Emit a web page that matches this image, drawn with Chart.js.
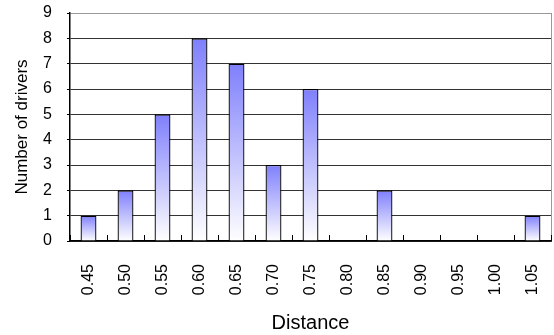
<!DOCTYPE html>
<html>
<head>
<meta charset="utf-8">
<script src="https://cdn.jsdelivr.net/npm/chart.js@4/dist/chart.umd.min.js"></script>
<style>
  html, body { margin: 0; padding: 0; background: #fff; }
  #wrap { width: 554px; height: 335px; }
</style>
</head>
<body>
<div id="wrap"><canvas id="c" width="554" height="335"></canvas></div>
<script>
const categories = ["0.45","0.50","0.55","0.60","0.65","0.70","0.75","0.80","0.85","0.90","0.95","1.00","1.05"];
const drivers = [1, 2, 5, 8, 7, 3, 6, 0, 2, 0, 0, 0, 1];
const yTicks = [0,1,2,3,4,5,6,7,8,9];

const FONT = "'Liberation Sans', Arial, sans-serif";

function barGradient(c) {
  const chart = c.chart;
  const y = chart.scales && chart.scales.y;
  if (!y || c.raw == null || !c.raw) return '#8080ff';
  const top = y.getPixelForValue(c.raw);
  const base = y.getPixelForValue(0);
  if (!isFinite(top) || !isFinite(base) || top === base) return '#8080ff';
  const g = chart.ctx.createLinearGradient(0, top, 0, base);
  g.addColorStop(0, '#7f7ffc');
  g.addColorStop(1, '#ffffff');
  return g;
}

const spacedTitle = {
  id: 'spacedTitle',
  afterInit(chart) {
    const s = chart.scales.y;
    if (!s || s._spaced) return;
    const orig = s.drawTitle;
    s.drawTitle = function () {
      const ctx = this.ctx;
      ctx.save();
      try { ctx.letterSpacing = '2px'; } catch (e) {}
      orig.call(this);
      ctx.restore();
    };
    s._spaced = true;
  }
};

new Chart(document.getElementById('c'), {
  type: 'bar',
  data: {
    labels: categories,
    datasets: [{
      label: 'Number of drivers',
      data: drivers,
      backgroundColor: barGradient,
      borderColor: '#000',
      borderWidth: 1.3,
      borderSkipped: 'start',
      barPercentage: 0.43,
      categoryPercentage: 1.0
    }]
  },
  plugins: [spacedTitle],
  options: {
    responsive: false,
    animation: false,
    devicePixelRatio: 1,
    layout: { padding: { left: 0, right: 3, top: 13, bottom: 0 } },
    plugins: { legend: { display: false }, tooltip: { enabled: false } },
    scales: {
      x: {
        offset: true,
        afterFit(s) { s.height = 94; s.paddingLeft = 0; s.paddingRight = 0; },
        grid: {
          offset: true,
          drawOnChartArea: true,
          color: (c) => c.type === 'tick' ? 'rgba(0,0,0,0)' : '#999',
          tickColor: '#000',
          tickLength: -6,
          lineWidth: 1
        },
        border: { display: true, color: '#000', width: 1.5 },
        ticks: {
          color: '#000',
          font: { family: FONT, size: 16 },
          minRotation: 90,
          maxRotation: 90,
          autoSkip: false,
          padding: 29
        },
        title: {
          display: true,
          text: 'Distance',
          color: '#000',
          font: { family: FONT, size: 20 },
          padding: { top: 0, bottom: 0 }
        }
      },
      y: {
        min: 0,
        max: 9,
        afterFit(s) { s.width = 70; s.paddingTop = 0; s.paddingBottom = 0; },
        afterBuildTicks(s) { s.ticks = yTicks.map(v => ({ value: v })); },
        grid: {
          color: (c) => (c.tick && c.tick.value === 9) ? '#999' : '#333',
          tickColor: '#000',
          tickLength: 3,
          lineWidth: 1
        },
        border: { display: true, color: '#000', width: 1.5 },
        ticks: {
          color: '#000',
          font: { family: FONT, size: 16 },
          padding: 15,
          stepSize: 1
        },
        title: {
          display: true,
          text: 'Number of drivers',
          color: '#000',
          font: { family: FONT, size: 17 },
          padding: { top: 12, bottom: 0 }
        }
      }
    }
  }
});
</script>
</body>
</html>
